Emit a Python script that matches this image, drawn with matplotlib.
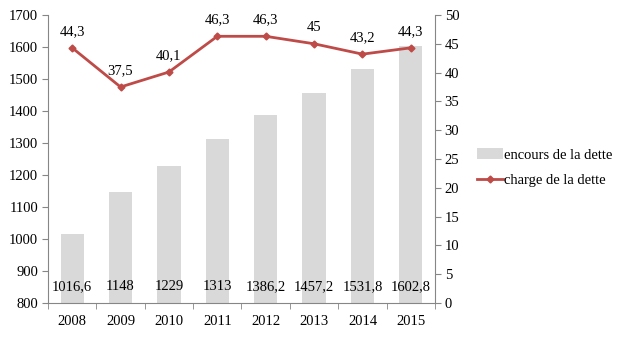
import matplotlib
matplotlib.use("Agg")
from matplotlib import pyplot as plt
from matplotlib.lines import Line2D
from matplotlib.patches import Patch

plt.rcParams['font.family'] = ['Liberation Serif', 'DejaVu Serif']

years = ['2008', '2009', '2010', '2011', '2012', '2013', '2014', '2015']
encours = [1016.6, 1148, 1229, 1313, 1386.2, 1457.2, 1531.8, 1602.8]
charge = [44.3, 37.5, 40.1, 46.3, 46.3, 45, 43.2, 44.3]

def fr(v):
    s = f"{v:.1f}".rstrip('0').rstrip('.')
    return s.replace('.', ',')

fig = plt.figure(figsize=(6.28, 3.39), dpi=100)
ax = fig.add_axes([0.0764, 0.1062, 0.6163, 0.8496])
x = range(len(years))

bar_color = '#d9d9d9'
line_color = '#be4b48'
axis_color = '#868686'

ax.bar(x, encours, width=0.48, color=bar_color, zorder=1)
ax.set_ylim(800, 1700)
ax.set_xlim(-0.5, len(years) - 0.5)
ax.set_yticks(range(800, 1701, 100))
ax.set_xticks(list(x))
ax.set_xticklabels(years)
ax.set_xticks([i + 0.5 for i in range(-1, len(years))], minor=True)
ax.tick_params(axis='x', which='major', length=0, pad=9, labelsize=10.5)
ax.tick_params(axis='x', which='minor', length=4, color=axis_color)
ax.tick_params(axis='y', length=4, color=axis_color, labelsize=10.5, pad=3)
for v, i in zip(encours, x):
    ax.text(i, 850, fr(v), ha='center', va='center', fontsize=10.5)

ax2 = ax.twinx()
ax2.plot(x, charge, color=line_color, lw=2, marker='D', ms=3.5, zorder=3)
ax2.set_ylim(0, 50)
ax2.set_yticks(range(0, 51, 5))
ax2.tick_params(axis='y', length=4, color=axis_color, labelsize=10.5, pad=3)
for v, i in zip(charge, x):
    ax2.annotate(fr(v), (i, v), xytext=(0, 7), textcoords='offset points',
                 ha='center', va='bottom', fontsize=10.5)

for a in (ax, ax2):
    a.spines['top'].set_visible(False)
    for s in ('left', 'right', 'bottom'):
        a.spines[s].set_color(axis_color)
ax.spines['right'].set_visible(False)
ax2.spines['left'].set_visible(False)
ax2.spines['bottom'].set_visible(False)

handles = [Patch(facecolor=bar_color, edgecolor='none'),
           Line2D([0], [0], color=line_color, lw=2, marker='D', ms=3.5)]
fig.legend(handles, ['encours de la dette', 'charge de la dette'],
           loc='center left', bbox_to_anchor=(0.738, 0.505), frameon=False,
           fontsize=10.5, handlelength=1.8, handletextpad=0.1, labelspacing=0.85)

fig.savefig('out.png', dpi=100)
